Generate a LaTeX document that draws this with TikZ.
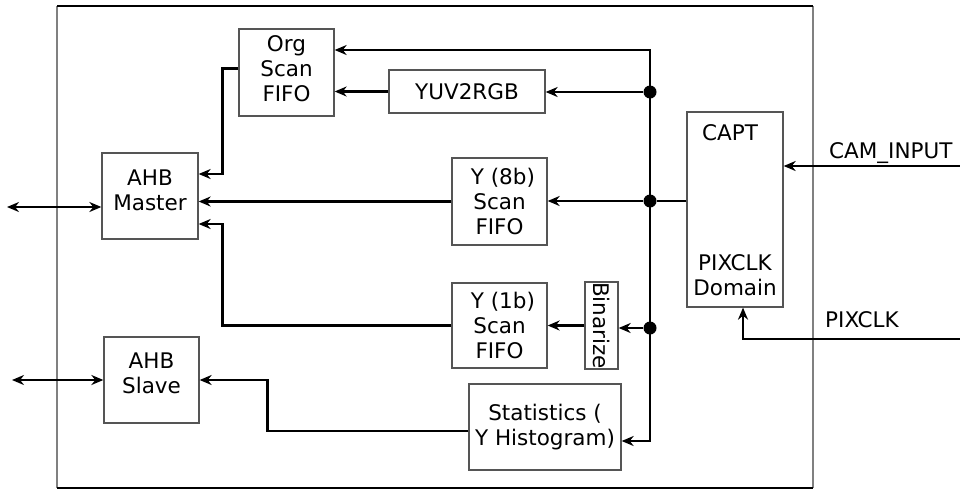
\documentclass[tikz,border=0pt]{standalone}
\usepackage{fontspec}
\setmainfont{DejaVu Sans}
\usepackage{tikz}
\usetikzlibrary{arrows.meta,positioning,calc}
\definecolor{cbox}{HTML}{555555}
\definecolor{cframe}{HTML}{808080}
\tikzset{
  blk/.style={draw=cbox, line width=1.3pt, align=center, inner sep=0pt,
              font=\fontsize{21.5}{25}\selectfont},
  lbl/.style={align=center, inner sep=0pt, font=\fontsize{21.5}{25}\selectfont},
  flow/.style={-{Stealth[length=12pt,width=10pt]}, line width=2.4pt},
  bidir/.style={{Stealth[length=12pt,width=10pt]}-{Stealth[length=12pt,width=10pt]}, line width=2.4pt},
  wire/.style={line width=2.4pt},
  jdot/.style={circle, fill=black, inner sep=0pt, minimum size=13pt},
}

\begin{document}
\begin{tikzpicture}[x=1pt, y=-1pt]
  \useasboundingbox (0,0) rectangle (960,490);
  % outer frame
  \draw[cframe, line width=1.6pt] (57,6) -- (57,488) (813,6) -- (813,488);
  \draw[black, line width=1.6pt] (57,6) -- (813,6) (57,488) -- (813,488);
  % blocks
  \node[blk, minimum width=95pt, minimum height=87pt] (org) at (286.5,72.5) {Org\\Scan\\FIFO\\[-17pt]};
  \node[blk, minimum width=156pt, minimum height=43pt] (yuv) at (467,91.5) {YUV2RGB};
  \node[blk, minimum width=95pt, minimum height=87pt] (y8) at (499.5,201.5) {\ Y (8b)\\Scan\\FIFO};
  \node[blk, minimum width=95pt, minimum height=85pt] (y1) at (499.5,325.5) {\ Y (1b)\\Scan\\FIFO};
  \node[blk, minimum width=85pt, minimum height=33pt, rotate=-90] (bin) at (601.5,325.5) {Binarize};
  \node[blk, minimum width=152pt, minimum height=86pt] (stat) at (545,427) {Statistics (\\Y Histogram)};
  \node[blk, minimum width=96pt, minimum height=86pt] (master) at (150,196) {AHB\\Master\\[-14pt]};
  \node[blk, minimum width=95pt, minimum height=86pt] (slave) at (151.5,380) {AHB\\Slave\\[-12pt]};
  \node[blk, minimum width=96pt, minimum height=195pt] (capt) at (735,209.5) {};
  \node[lbl] (captname) at (730,133) {CAPT};
  \node[lbl] (captdom) at (735,275) {PIXCLK\\Domain};
  % bus
  \coordinate (bustop) at (650,50);
  \coordinate (busbot) at (650,441);
  \node[jdot] (d1) at (650,92) {};
  \node[jdot] (d2) at (650,201) {};
  \node[jdot] (d3) at (650,328) {};
  \draw[bidir, line join=miter] (bustop -| org.east) -- (bustop) -- (busbot) -- (busbot -| stat.east);
  \draw[flow] (d1) -- (d1 -| yuv.east);
  \draw[flow] (yuv.west) -- (yuv.west -| org.east);
  \draw[wire] (d2 -| capt.west) -- (d2);
  \draw[flow] (d2) -- (d2 -| y8.east);
  \draw[flow] (d3) -- (d3 -| bin.north);
  \draw[flow] (bin.south) -- (bin.south -| y1.east);
  % into AHB master
  \draw[flow] ([yshift=4pt]org.west) -- ++(-16,0) |- ([yshift=22pt]master.east);
  \draw[flow] (y8.west) -- (y8.west -| master.east);
  \draw[flow] (y1.west) -- ++(-229,0) |- ([yshift=-28pt]master.east);
  \draw[flow] ([yshift=-4pt]stat.west) -- ++(-201,0) |- (slave.east);
  % external ports
  \coordinate (mext) at (7,207);
  \coordinate (sext) at (12,380);
  \coordinate (camin) at (960,166);
  \coordinate (pixin) at (960,339);
  \draw[bidir] (mext) -- (mext -| master.west);
  \draw[bidir] (sext) -- (sext -| slave.west);
  \draw[flow] (camin) -- (camin -| capt.east);
  \draw[flow] (pixin) -| ([xshift=8pt]capt.south);
  \node[lbl, anchor=base west] (camlbl) at (829,158) {CAM\_INPUT};
  \node[lbl, anchor=base west] (pixlbl) at (825,327) {PIXCLK};
\end{tikzpicture}
\end{document}
